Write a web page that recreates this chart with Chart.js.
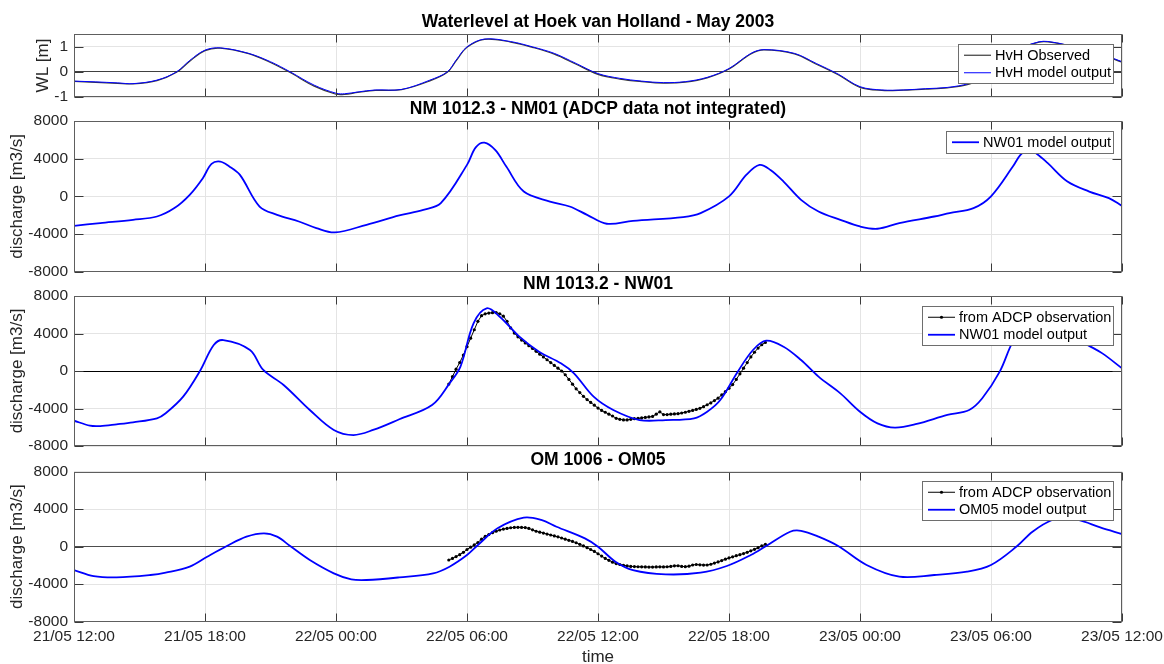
<!DOCTYPE html>
<html>
<head>
<meta charset="utf-8">
<script src="https://cdn.jsdelivr.net/npm/chart.js"></script>
<style>
  body { margin: 0; background: #fff; }
  #wrap { position: relative; width: 1164px; height: 664px; }
  .panel { position: absolute; left: 0; }
</style>
</head>
<body>
<div id="wrap">
  <canvas id="c1" class="panel" style="top:0" width="1164" height="110"></canvas>
  <canvas id="c2" class="panel" style="top:100px" width="1164" height="184"></canvas>
  <canvas id="c3" class="panel" style="top:274px" width="1164" height="184"></canvas>
  <canvas id="c4" class="panel" style="top:448px" width="1164" height="216"></canvas>
</div>
<script>
// time axis: hours after 21/05 12:00
const xTickHours = [0, 6, 12, 18, 24, 30, 36, 42, 48];
const xTickLabels = ['21/05 12:00', '21/05 18:00', '22/05 00:00', '22/05 06:00', '22/05 12:00',
  '22/05 18:00', '23/05 00:00', '23/05 06:00', '23/05 12:00'];
const wlTicks = [-1, 0, 1];
const qTicks = [-8000, -4000, 0, 4000, 8000];

// Hoek van Holland water level [m]
const wlHours = [0, 1, 2, 2.7, 3.8, 4.7, 5.3, 6, 6.7, 8, 9, 9.9, 11, 12, 12.4, 13, 13.8, 15, 16.3, 17.1,
  17.5, 18, 18.8, 20, 21, 22, 23, 24, 25, 26, 27, 28, 29, 30, 31, 31.6, 33, 34, 35, 36,
  37, 38, 39, 40, 41, 42, 43, 44.2, 45, 46, 47, 48];
const wlModel = [-0.37, -0.40, -0.44, -0.47, -0.33, 0.0, 0.45, 0.86, 0.95, 0.73, 0.40, 0.0, -0.53, -0.85, -0.87,
  -0.80, -0.72, -0.70, -0.33, 0.0, 0.46, 0.99, 1.30, 1.20, 0.99, 0.73, 0.33, -0.07, -0.26, -0.37,
  -0.43, -0.39, -0.22, 0.13, 0.73, 0.88, 0.73, 0.33, -0.09, -0.59, -0.72, -0.72, -0.67, -0.62, -0.46,
  -0.10, 0.75, 1.19, 1.15, 0.95, 0.72, 0.40];
const wlObserved = [-0.38, -0.42, -0.46, -0.48, -0.35, -0.02, 0.42, 0.84, 0.94, 0.72, 0.37, -0.03, -0.57, -0.89, -0.90,
  -0.82, -0.74, -0.71, -0.36, -0.02, 0.43, 0.97, 1.29, 1.18, 0.97, 0.70, 0.30, -0.10, -0.29, -0.39,
  -0.45, -0.41, -0.24, 0.11, 0.71, 0.87, 0.71, 0.30, -0.12, -0.62, -0.74, -0.73, -0.69, -0.64, -0.49,
  -0.12, 0.73, 1.18, 1.14, 0.94, 0.70, 0.38];

// NM 1012.3 - NM01 discharge [m3/s]
const nm01Hours = [0, 1.2, 2.7, 3.8, 4.6, 5.3, 5.9, 6.3, 6.7, 7.1, 7.6, 8.5, 9.3, 10.3, 11.1, 11.95, 13.4,
  14.9, 16.0, 16.8, 18.0, 18.4, 18.8, 19.3, 19.8, 20.6, 21.8, 22.7, 23.5, 24.4, 25.6, 27.9, 28.7,
  30.0, 30.8, 31.4, 31.9, 32.5, 33.3, 34.1, 35.1, 36.0, 36.8, 37.8, 39.4, 40.1, 41.2, 42.0, 43.0,
  43.35, 43.7, 44.1, 44.6, 45.5, 46.5, 47.4, 48];
const nm01Model = [-3130, -2840, -2490, -2140, -1250, 160, 1930, 3450, 3690, 3200, 2280, -1080, -1960, -2670,
  -3370, -3830, -3020, -2030, -1430, -720, 3340, 5200, 5700, 4900, 3160, 510, -550, -1080, -1960,
  -2910, -2600, -2200, -1780, 0, 2300, 3340, 2800, 1570, -370, -1610, -2490, -3200, -3440, -2840,
  -2140, -1780, -1250, 0, 3160, 4400, 4930, 4500, 3520, 1570, 510, -190, -1010];

// NM 1013.2 - NW01 discharge [m3/s]
const nw01Hours = [0, 0.73, 1.2, 1.95, 2.7, 3.8, 4.2, 5.0, 5.77, 6.4, 6.84, 8.06, 8.67, 9.6, 10.8, 11.9,
  12.8, 13.7, 14.9, 16.4, 17.2, 17.7, 18.3, 18.9, 19.5, 20.4, 21.3, 22.3, 22.9, 23.8, 24.7, 25.9,
  27.1, 28.4, 29.0, 29.6, 30.4, 31.1, 31.7, 32.5, 33.3, 34.1, 35.1, 36.0, 36.8, 37.6, 38.6, 40.0,
  41.0, 41.6, 42.4, 43.0, 43.7, 44.4, 45.2, 46.2, 47.1, 48];
const nw01Model = [-5300, -5830, -5870, -5690, -5480, -5050, -4510, -2740, 0, 2770, 3300, 2240, 110, -1490,
  -4160, -6290, -6830, -6290, -5150, -3630, -1320, 460, 5090, 6690, 5790, 3660, 2060, 820, -250,
  -2740, -4160, -5230, -5230, -5050, -4340, -3090, -70, 2240, 3230, 2590, 1170, -600, -2380, -4340,
  -5580, -6040, -5650, -4690, -4160, -2910, -70, 3130, 5400, 6100, 5200, 3130, 1880, 290];

// ADCP observations: every 10 minutes from 22/05 05:10
const obsStartHour = 17 + 10 / 60;
const obsStepHour = 10 / 60;
const nw01Obs = [-1390, -600, 200, 900, 1700,
  2600, 3500, 4400, 5300, 5900, 6100,
  6180, 6220, 6230, 6100, 5850, 5300,
  4600, 4050, 3650, 3300, 3000, 2700,
  2400, 2100, 1800, 1500, 1200, 900,
  600, 300, 0, -400, -900, -1400,
  -1900, -2300, -2700, -3050, -3350, -3650,
  -3950, -4200, -4400, -4600, -4800, -5050,
  -5150, -5220, -5220, -5150, -5080, -5050,
  -5000, -4950, -4900, -4850, -4600, -4350,
  -4650, -4650, -4600, -4580, -4550, -4480,
  -4400, -4300, -4200, -4100, -3980, -3800,
  -3600, -3400, -3150, -2900, -2550, -2200,
  -1850, -1450, -900, -300, 300, 900,
  1500, 2000, 2450, 2800, 3050];

// OM 1006 - OM05 discharge [m3/s]
const om05Hours = [0, 0.9, 1.95, 3.5, 4.2, 5.3, 6.1, 7.0, 7.9, 8.7, 9.3, 9.9, 10.8, 11.9, 12.7, 13.4, 14.9,
  16.45, 17.2, 18.0, 18.5, 19.4, 20.6, 21.4, 22.1, 23.4, 24.0, 24.8, 25.6, 27.1, 28.7, 29.9, 31.0,
  31.7, 32.8, 33.3, 34.1, 35.0, 36.3, 37.8, 39.4, 40.9, 42.0, 43.2, 43.9, 44.8, 45.4, 46.0, 47.0, 48];
const om05Model = [-2490, -3130, -3270, -3020, -2770, -2130, -1070, 70, 1070, 1430, 1070, 70, -1420, -2840,
  -3480, -3550, -3270, -2840, -2130, -890, 180, 1960, 3090, 2850, 2130, 890, 0, -1600, -2490, -2950,
  -2770, -2060, -890, 70, 1600, 1700, 1070, 70, -1950, -3200, -3020, -2670, -1950, 70, 1600, 2850,
  2950, 2850, 2060, 1350];
const om05Obs = [-1420, -1250, -1050, -850, -600,
  -300, -50, 200, 450, 800, 1100,
  1300, 1500, 1650, 1780, 1880, 1950,
  2020, 2060, 2070, 2060, 2040, 1950,
  1800, 1650, 1550, 1450, 1350, 1250,
  1150, 1050, 930, 800, 680, 560,
  420, 250, 80, -100, -300, -500,
  -750, -1000, -1250, -1450, -1650, -1800,
  -1900, -1980, -2050, -2100, -2120, -2140,
  -2150, -2160, -2170, -2170, -2160, -2150,
  -2160, -2140, -2100, -2040, -2030, -2100,
  -2130, -2080, -1950, -1900, -1930, -1960,
  -1950, -1870, -1750, -1620, -1480, -1330,
  -1200, -1080, -960, -850, -730, -600,
  -440, -280, -100, 80, 250];

const FONT = '"Liberation Sans", Arial, Helvetica, sans-serif';
const TEXT = '#262626';
const GRID = '#e4e4e4';
const BLUE = '#0000ff';

function pts(hours, vals) {
  return hours.map((h, i) => ({ x: h, y: vals[i] }));
}
function obsPts(vals) {
  return vals.map((v, i) => ({ x: obsStartHour + i * obsStepHour, y: v }));
}

function modelSet(label, data, width) {
  return { label: label, data: data, borderColor: BLUE, borderWidth: width, pointRadius: 0,
    tension: 0.35, order: 0 };
}
function obsSet(label, data) {
  return { label: label, data: data, borderColor: '#000', borderWidth: 1, pointRadius: 1.6,
    pointBackgroundColor: '#000', pointBorderWidth: 0, tension: 0, order: 1 };
}

// box, inward ticks, panel title and in-axes legend
const framePlugin = {
  id: 'frame',
  afterDatasetsDraw(chart, args, opts) {
    const ctx = chart.ctx, a = chart.chartArea;
    const xs = chart.scales.x, ys = chart.scales.y;
    const L = Math.round(a.left) + 0.5, R = Math.round(a.right) - 0.5;
    const T = Math.round(a.top) + 0.5, B = Math.round(a.bottom) - 0.5;
    ctx.save();
    ctx.lineWidth = 1;
    ctx.strokeStyle = '#3a3a3a';
    ctx.beginPath();
    xs.ticks.forEach(t => {
      const p = Math.round(xs.getPixelForValue(t.value)) + 0.5;
      ctx.moveTo(p, T); ctx.lineTo(p, T + 8);
      ctx.moveTo(p, B); ctx.lineTo(p, B - 8);
    });
    ys.ticks.forEach(t => {
      const p = Math.round(ys.getPixelForValue(t.value)) + 0.5;
      ctx.moveTo(L, p); ctx.lineTo(L + 9, p);
      ctx.moveTo(R, p); ctx.lineTo(R - 9, p);
    });
    ctx.stroke();
    ctx.strokeStyle = '#5e5e5e';
    ctx.strokeRect(L, T, R - L, B - T);

    // title
    ctx.fillStyle = '#000';
    ctx.font = 'bold 17.5px ' + FONT;
    ctx.textAlign = 'center';
    ctx.textBaseline = 'alphabetic';
    ctx.fillText(opts.title, (a.left + a.right) / 2, a.top - 7);

    // legend
    const items = chart.data.datasets;
    ctx.font = '14.5px ' + FONT;
    const tw = Math.max(...items.map(d => ctx.measureText(d.label).width));
    const rowH = 17.5, pad = 2;
    const w = Math.round(5.5 + 27 + 4 + tw + 2.5);
    const h = Math.round(pad * 2 + rowH * items.length);
    const bx = Math.round(a.right - 9.5 - w) + 0.5, by = Math.round(a.top + 9.5) + 0.5;
    ctx.fillStyle = '#fff';
    ctx.fillRect(bx, by, w, h);
    ctx.strokeStyle = '#6e6e6e';
    ctx.lineWidth = 1;
    ctx.strokeRect(bx, by, w, h);
    items.forEach((d, i) => {
      const cy = by + pad + rowH * (i + 0.5);
      ctx.strokeStyle = d.borderColor;
      ctx.lineWidth = d.borderWidth;
      ctx.beginPath();
      ctx.moveTo(bx + 5.5, cy); ctx.lineTo(bx + 32.5, cy);
      ctx.stroke();
      if (d.pointRadius > 0) {
        ctx.fillStyle = d.pointBackgroundColor;
        ctx.beginPath();
        ctx.arc(bx + 19, cy, d.pointRadius, 0, 2 * Math.PI);
        ctx.fill();
      }
      ctx.fillStyle = '#000';
      ctx.textAlign = 'left';
      ctx.textBaseline = 'middle';
      ctx.fillText(d.label, bx + 36.5, cy + 0.5);
    });
    ctx.restore();
  }
};

function makePanel(id, cfg) {
  return new Chart(document.getElementById(id), {
    type: 'line',
    data: { datasets: cfg.datasets },
    options: {
      responsive: false,
      animation: false,
      events: [],
      layout: { autoPadding: false, padding: { left: 0, right: 42, top: cfg.padTop, bottom: cfg.padBottom } },
      plugins: {
        legend: { display: false },
        tooltip: { enabled: false },
        frame: { title: cfg.title }
      },
      scales: {
        x: {
          type: 'linear', min: 0, max: 48,
          afterBuildTicks: s => { s.ticks = xTickHours.map(v => ({ value: v })); },
          afterFit: s => { s.height = cfg.xHeight; s.paddingLeft = 0; s.paddingRight = 0; },
          ticks: {
            display: cfg.showX, padding: 6, maxRotation: 0, autoSkip: false, color: TEXT,
            font: { family: FONT, size: 15.5 },
            callback: (v, i) => xTickLabels[i]
          },
          grid: { color: GRID, drawTicks: false },
          border: { display: false },
          title: {
            display: cfg.showX, text: 'time', color: TEXT, padding: { top: 0, bottom: 0 },
            font: { family: FONT, size: 17, lineHeight: 0.75 }
          }
        },
        y: {
          type: 'linear', min: cfg.yMin, max: cfg.yMax,
          afterBuildTicks: s => { s.ticks = cfg.yTicks.map(v => ({ value: v })); },
          afterFit: s => { s.width = 74; s.paddingTop = 0; s.paddingBottom = 0; },
          ticks: { padding: 6, color: TEXT, font: { family: FONT, size: 15.5 }, callback: v => String(v) },
          grid: {
            drawTicks: false,
            color: c => (cfg.zeroColor && c.tick && c.tick.value === 0) ? cfg.zeroColor : GRID
          },
          border: { display: false },
          title: {
            display: true, text: cfg.yLabel, color: TEXT,
            padding: { top: cfg.yTitlePad, bottom: 0 },
            font: { family: FONT, size: 17 }
          }
        }
      }
    },
    plugins: [framePlugin]
  });
}

makePanel('c1', {
  title: 'Waterlevel at Hoek van Holland - May 2003',
  yLabel: 'WL [m]', yMin: -1, yMax: 1.5, yTicks: wlTicks, yTitlePad: 33,
  zeroColor: '#404040', padTop: 34, padBottom: 13, xHeight: 0, showX: false,
  datasets: [
    { label: 'HvH Observed', data: pts(wlHours, wlObserved), borderColor: '#3a3a3a', borderWidth: 1.2,
      pointRadius: 0, tension: 0.35, order: 1 },
    modelSet('HvH model output', pts(wlHours, wlModel), 1)
  ]
});

makePanel('c2', {
  title: 'NM 1012.3 - NM01 (ADCP data not integrated)',
  yLabel: 'discharge [m3/s]', yMin: -8000, yMax: 8000, yTicks: qTicks, yTitlePad: 7,
  zeroColor: null, padTop: 21, padBottom: 12.3, xHeight: 0, showX: false,
  datasets: [modelSet('NW01 model output', pts(nm01Hours, nm01Model), 1.8)]
});

makePanel('c3', {
  title: 'NM 1013.2 - NW01',
  yLabel: 'discharge [m3/s]', yMin: -8000, yMax: 8000, yTicks: qTicks, yTitlePad: 7,
  zeroColor: '#000', padTop: 22, padBottom: 12, xHeight: 0, showX: false,
  datasets: [
    obsSet('from ADCP observation', obsPts(nw01Obs)),
    modelSet('NW01 model output', pts(nw01Hours, nw01Model), 1.8)
  ]
});

makePanel('c4', {
  title: 'OM 1006 - OM05',
  yLabel: 'discharge [m3/s]', yMin: -8000, yMax: 8000, yTicks: qTicks, yTitlePad: 7,
  zeroColor: '#4d4d4d', padTop: 23.7, padBottom: 0, xHeight: 42.3, showX: true,
  datasets: [
    obsSet('from ADCP observation', obsPts(om05Obs)),
    modelSet('OM05 model output', pts(om05Hours, om05Model), 1.8)
  ]
});
</script>
</body>
</html>
